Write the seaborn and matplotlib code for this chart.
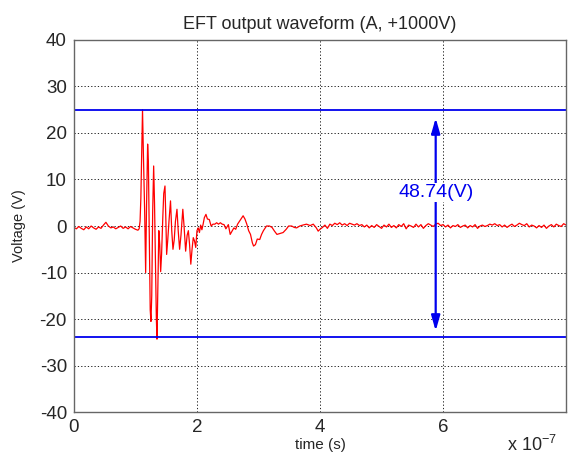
import numpy as np
import pandas as pd
import matplotlib
matplotlib.use("Agg")
import matplotlib.pyplot as plt
import seaborn as sns

# ---------------- data ----------------
# pre-burst noise, sampled every 4 ns from 0 ns
pre_v = [-0.3, -0.6, -0.1, -0.5, -0.8, -0.2, -0.6, 0.0, -0.4, -0.7, -0.2, -0.5,
         0.2, 0.8, 0.0, -0.4, -0.2, -0.6, -0.3, 0.0, -0.5, -0.2, -0.6, -0.1,
         -0.4, -0.7, -0.9]
pre_step_ns = 4

# burst and settling (time in ns, volts)
burst_t = [106, 107.5, 108.8, 110, 111.5, 113, 115, 116.6, 118, 119.8, 121, 122.5,
           124, 125.2, 126.5, 128, 129.6, 131, 132.5, 134, 135, 136.5, 138, 139.5,
           141, 142.5, 144.5, 146, 148, 149.5, 150.7, 152.5, 154.5, 157, 159, 161,
           163, 165, 167.5, 169.5, 171.8, 174, 177, 179, 181.6, 184, 186, 188,
           190, 192, 194, 196, 198, 200, 202, 204, 206, 208, 210, 212,
           214.6, 217, 220, 223, 226, 229, 232, 235, 238, 241, 244, 247,
           251, 254, 257, 260, 263, 266, 270, 275, 278, 281, 284, 287,
           290, 292, 295, 298, 302, 305, 308, 313, 318, 322, 326, 330,
           335, 340, 345, 349, 354, 358, 362, 367, 372, 378, 384, 389,
           394, 397, 400]
burst_v = [-0.6, 1.0, 6.0, 14.0, 25.0, 15.0, 3.0, -10.0, 4.0, 17.6, 14.0, -2.0,
           -18.0, -20.5, -15.0, 3.0, 12.9, 5.0, -8.0, -20.0, -24.3, -12.0, -1.0, -4.0,
           -9.8, -6.0, 2.0, 7.0, 8.6, 1.0, -6.1, -3.0, 1.0, 5.4, -1.0, -5.0,
           -3.0, 1.0, 3.6, -1.0, -5.0, -2.0, 3.6, 0.0, -5.4, -2.0, -1.0, -4.0,
           -8.2, -5.0, -2.5, -3.2, -4.6, -1.0, -0.4, -1.4, 0.2, -0.8, 0.4, 1.8,
           2.5, 1.5, 1.4, 0.0, 0.4, 0.4, 0.7, 0.4, 0.7, 0.4, 0.3, -0.6,
           0.3, -1.8, -1.1, -0.4, -0.7, 0.4, 1.2, 2.2, 1.5, 0.4, -1.0, -1.8,
           -3.6, -4.3, -4.0, -2.8, -2.9, -1.8, -1.0, 0.0, 0.0, -0.3, -1.1, -1.8,
           -1.6, -1.4, -0.7, 0.0, 0.0, -0.3, -0.4, 0.0, 0.2, 0.4, 0.1, 0.4,
           -0.4, -1.1, -0.7]

# tail noise, sampled every 4 ns from 404 ns
tail_start_ns = 404
tail_step_ns = 4
tail_v = [-0.3, 0.2, -0.5, 0.4, 0.1, 0.6, 0.3, 0.7, 0.2, 0.5,
          0.1, 0.6, 0.4, 0.2, 0.5, 0.1, 0.3, -0.2, 0.2, -0.4,
          0.1, -0.3, 0.3, -0.1, -0.5, 0.2, -0.2, 0.4, -0.3, 0.1,
          -0.4, 0.3, -0.1, 0.5, -0.6, 0.2, 0.0, -0.3, 0.4, -0.2,
          0.3, -0.5, 0.1, 0.5, 0.2, -0.1, 0.4, 0.6, 0.1, 0.3,
          -0.2, 0.2, -0.4, 0.1, -0.1, 0.3, -0.3, 0.0, 0.2, -0.4,
          0.1, -0.2, 0.3, -0.5, 0.0, 0.2, -0.1, 0.1, 0.4, 0.2,
          0.5, 0.1, 0.3, -0.2, 0.2, -0.3, 0.1, 0.4, -0.1, 0.2,
          0.6, 0.3, 0.1, 0.5, -0.2, 0.2, 0.0, -0.4, 0.1, -0.3,
          0.2, -0.5, 0.0, 0.3, -0.2, 0.4, 0.1, -0.1, 0.5, 0.2]

v_max = 25.0
v_min = -23.74
pp_label = "48.74(V)"
arrow_x_s = 5.88e-7

x_ticks = [0, 2e-7, 4e-7, 6e-7]
x_ticklabels = ["0", "2", "4", "6"]
y_ticks = [-40, -30, -20, -10, 0, 10, 20, 30, 40]

title = "EFT output waveform (A, +1000V)"
xlabel = "time (s)"
ylabel = "Voltage (V)"

# ---------------- assemble ----------------
pre_t = [i * pre_step_ns for i in range(len(pre_v))]
tail_t = [tail_start_ns + i * tail_step_ns for i in range(len(tail_v))]
t_ns = pre_t + burst_t + tail_t
v = pre_v + burst_v + tail_v
df = pd.DataFrame({"t": np.array(t_ns) * 1e-9, "v": v})

sns.set_style("white")
plt.rcParams["font.family"] = ["Liberation Sans", "DejaVu Sans"]
plt.rcParams["axes.unicode_minus"] = False
plt.rcParams["mathtext.default"] = "regular"

fig = plt.figure(figsize=(5.73, 4.58), dpi=100)
ax = fig.add_axes([0.129, 0.100, 0.859, 0.813])

sns.lineplot(data=df, x="t", y="v", ax=ax, color="red", lw=0.9,
             estimator=None, sort=False)

ax.axhline(v_max, color="#0000ee", lw=1.3)
ax.axhline(v_min, color="#0000ee", lw=1.3)

mid = 7.2
ax.annotate("", xy=(arrow_x_s, v_max - 1.8), xytext=(arrow_x_s, v_min + 1.2),
            arrowprops=dict(arrowstyle="<|-|>,head_length=0.7,head_width=0.2",
                            color="#0000ee", lw=1.6,
                            mutation_scale=13, shrinkA=0, shrinkB=0))
ax.text(arrow_x_s, mid, pp_label, color="#0000ee", fontsize=14,
        ha="center", va="center",
        bbox=dict(facecolor="white", edgecolor="none", pad=1.0))

ax.set_xlim(0, 8e-7)
ax.set_ylim(-40, 40)
ax.set_xticks(x_ticks)
ax.set_xticklabels(x_ticklabels)
ax.set_yticks(y_ticks)
ax.set_yticklabels([str(y) for y in y_ticks])
ax.tick_params(direction="in", length=3, labelsize=13.5, color="#555555", pad=5)
ax.grid(True, color="black", linestyle=(0, (1.5, 2.5)), lw=0.6)
for s in ax.spines.values():
    s.set_color("#666666")
    s.set_linewidth(1.0)

ax.set_title(title, fontsize=13, pad=8)
ax.set_xlabel(xlabel, fontsize=11, labelpad=1)
ax.set_ylabel(ylabel, fontsize=10.5, labelpad=10)
fig.text(0.884, 0.006, r"x 10$^{-7}$", fontsize=13, ha="left", va="bottom")

fig.savefig("out.png", dpi=100, facecolor="white")
